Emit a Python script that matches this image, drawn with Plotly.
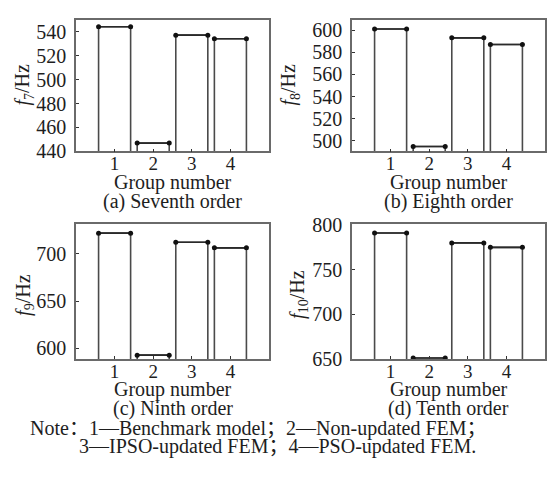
import plotly.graph_objects as go

W, H = 556, 477

groups = [1, 2, 3, 4]
group_labels = ["1", "2", "3", "4"]

f7 = [544, 447, 537, 534]
f8 = [601, 495, 593, 587]
f9 = [721.5, 593, 712, 706]
f10 = [791, 651, 780, 775]

panel_titles = ["(a) Seventh order", "(b) Eighth order", "(c) Ninth order", "(d) Tenth order"]
y_titles = ["<i>f</i><sub>7</sub>/Hz", "<i>f</i><sub>8</sub>/Hz",
            "<i>f</i><sub>9</sub>/Hz", "<i>f</i><sub>10</sub>/Hz"]
x_title = "Group number"

y_ranges = [[440, 550], [490.5, 609.5], [589, 731], [650, 801]]
y_ticks = [[440, 460, 480, 500, 520, 540],
           [500, 520, 540, 560, 580, 600],
           [600, 650, 700],
           [650, 700, 750, 800]]

note_line1 = "Note：1—Benchmark model；2—Non-updated FEM；"
note_line2 = "3—IPSO-updated FEM；4—PSO-updated FEM."

series = [f7, f8, f9, f10]

FONT = "Liberation Serif, Noto Sans CJK SC, serif"
TXT = "#1e1e1e"
FS = 20
bar_w = 0.83

# pixel boxes: (left, right, top, bottom)
boxes = [(76, 269, 10, 148), (352, 545, 10, 148), (76, 269, 224, 365), (352, 545, 224, 365)]
ytitle_pos = [(24, 78), (290, 78), (25, 298), (299, 298)]

def px(x):
    return x / W

def py(y):
    return 1 - y / H

fig = go.Figure()
annotations = []

for i, (vals, box) in enumerate(zip(series, boxes)):
    l, r, t, b = box
    xa = "x" if i == 0 else f"x{i+1}"
    ya = "y" if i == 0 else f"y{i+1}"
    fig.add_trace(go.Bar(
        x=groups, y=vals, width=bar_w, base=0,
        marker=dict(color="rgba(255,255,255,0)", line=dict(color="#4a4a4a", width=1.6)),
        xaxis=xa, yaxis=ya, showlegend=False, hoverinfo="skip"))
    cx, cy = [], []
    for g, v in zip(groups, vals):
        cx += [g - bar_w / 2, g + bar_w / 2, None]
        cy += [v, v, None]
    fig.add_trace(go.Scatter(
        x=cx, y=cy, mode="lines+markers",
        line=dict(color="#2a2a2a", width=1.6),
        marker=dict(color="#111111", size=5),
        xaxis=xa, yaxis=ya, showlegend=False, hoverinfo="skip"))

    axis_common = dict(showline=True, mirror=True, linecolor="#6a6a6a", linewidth=1.6,
                       showgrid=False, zeroline=False, ticks="inside", ticklen=3,
                       tickcolor="#333333", tickwidth=1.2)
    xkey = "xaxis" if i == 0 else f"xaxis{i+1}"
    ykey = "yaxis" if i == 0 else f"yaxis{i+1}"
    fig.update_layout(**{
        xkey: dict(domain=[px(l), px(r)], range=[0, 5], tickvals=groups, ticktext=group_labels,
                   anchor=ya, ticklabelstandoff=-6,
                   tickfont=dict(family=FONT, size=19, color=TXT), **axis_common),
        ykey: dict(domain=[py(b), py(t)], range=y_ranges[i], tickvals=y_ticks[i],
                   anchor=xa, ticklabelstandoff=4,
                   tickfont=dict(family=FONT, size=FS, color=TXT), **axis_common),
    })
    cxp = (l + r) / 2
    annotations.append(dict(text=x_title, x=px(cxp), y=py(b + 32), xref="paper", yref="paper",
                            showarrow=False, xanchor="center", yanchor="middle",
                            font=dict(family=FONT, size=FS, color=TXT)))
    annotations.append(dict(text=panel_titles[i], x=px(cxp), y=py(b + 52), xref="paper", yref="paper",
                            showarrow=False, xanchor="center", yanchor="middle",
                            font=dict(family=FONT, size=FS, color=TXT)))
    tx, ty = ytitle_pos[i]
    annotations.append(dict(text=y_titles[i], x=px(tx), y=py(ty), xref="paper", yref="paper",
                            showarrow=False, xanchor="center", yanchor="middle", textangle=-90,
                            font=dict(family=FONT, size=FS, color=TXT)))

annotations.append(dict(text=note_line1, x=px(28), y=py(438), xref="paper", yref="paper",
                        showarrow=False, xanchor="left", yanchor="middle",
                        font=dict(family=FONT, size=FS, color=TXT)))
annotations.append(dict(text=note_line2, x=px(77), y=py(457), xref="paper", yref="paper",
                        showarrow=False, xanchor="left", yanchor="middle",
                        font=dict(family=FONT, size=FS, color=TXT)))

fig.update_layout(width=W, height=H, margin=dict(l=0, r=0, t=0, b=0),
                  paper_bgcolor="white", plot_bgcolor="white",
                  annotations=annotations, barmode="overlay")

fig.write_html("out.html")
